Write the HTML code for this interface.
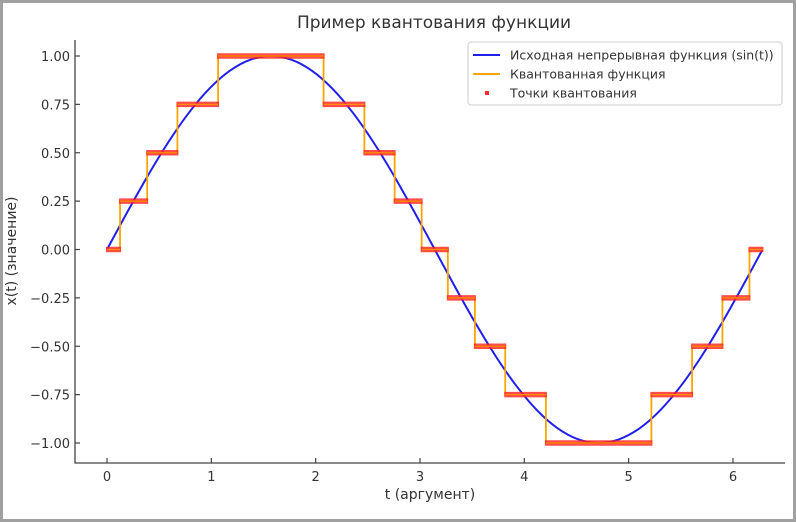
<!DOCTYPE html>
<html><head><meta charset="utf-8"><style>
html,body{margin:0;padding:0;background:#fff}
#wrap{position:relative;width:796px;height:522px;box-sizing:border-box;border:3px solid #a0a0a0;background:#fff}
svg{position:absolute;left:-3px;top:-3px}
text{font-family:"DejaVu Sans","Liberation Sans",sans-serif;fill:#333}
</style></head><body>
<div id="wrap">
<svg id="chart" width="796" height="522"></svg>
</div>
<script>
// data
const sineT = [0,0.1963,0.3927,0.5890,0.7854,0.9817,1.1781,1.3744,1.5708,1.7671,1.9635,2.1598,2.3562,2.5525,2.7489,2.9452,3.1416,3.3379,3.5343,3.7306,3.9270,4.1233,4.3197,4.5160,4.7124,4.9087,5.1051,5.3014,5.4978,5.6941,5.8905,6.0868,6.2832];
const sineV = [0,0.1951,0.3827,0.5556,0.7071,0.8315,0.9239,0.9808,1,0.9808,0.9239,0.8315,0.7071,0.5556,0.3827,0.1951,0,-0.1951,-0.3827,-0.5556,-0.7071,-0.8315,-0.9239,-0.9808,-1,-0.9808,-0.9239,-0.8315,-0.7071,-0.5556,-0.3827,-0.1951,0];
const levelStart = [0,0.125,0.385,0.675,1.065,2.076,2.467,2.757,3.016,3.267,3.526,3.817,4.207,5.218,5.608,5.899,6.158];
const levelEnd = [0.125,0.385,0.675,1.065,2.076,2.467,2.757,3.016,3.267,3.526,3.817,4.207,5.218,5.608,5.899,6.158,6.283];
const levelValue = [0,0.25,0.5,0.75,1,0.75,0.5,0.25,0,-0.25,-0.5,-0.75,-1,-0.75,-0.5,-0.25,0];
const xTicks = [0,1,2,3,4,5,6];
const yTicks = [1,0.75,0.5,0.25,0,-0.25,-0.5,-0.75,-1];
const yTickLabels = ["1.00","0.75","0.50","0.25","0.00","\u22120.25","\u22120.50","\u22120.75","\u22121.00"];

const svg = document.getElementById('chart');
const NS = 'http://www.w3.org/2000/svg';
const X = t => 107 + t * 104.33;
const Y = v => 249.5 - v * 193.5;
function mk(tag, attrs, parent){ const e=document.createElementNS(NS,tag); for(const k in attrs) e.setAttribute(k,attrs[k]); (parent||svg).appendChild(e); return e; }

let e = mk('text',{x:434,y:28,'text-anchor':'middle','font-size':17});
e.textContent='Пример квантования функции';



e = mk('path',{d:'M75,40 V463 H785',fill:'none',stroke:'#444','stroke-width':1.3});



xTicks.forEach(t=>{
  const l = mk('line',{x1:X(t),x2:X(t),y1:463,y2:458,stroke:'#444','stroke-width':1.2});
  
  
  const tx = mk('text',{x:X(t),y:481,'text-anchor':'middle','font-size':13});
  tx.textContent = t;
  
  
});
yTicks.forEach((v,i)=>{
  const l = mk('line',{x1:75,x2:80,y1:Y(v),y2:Y(v),stroke:'#444','stroke-width':1.2});
  
  
  const tx = mk('text',{x:70,y:Y(v)+5,'text-anchor':'end','font-size':13});
  tx.textContent = yTickLabels[i];
  
  
});
e = mk('text',{x:430,y:499,'text-anchor':'middle','font-size':14});
e.textContent='t (аргумент)';


e = mk('text',{x:0,y:0,'text-anchor':'middle','font-size':14,transform:'translate(16,251) rotate(-90)'});
e.textContent='x(t) (значение)';



// sine (smooth Catmull-Rom through sampled points)
const P = sineT.map((t,i)=>[X(t),Y(sineV[i])]);
let d = 'M'+P[0][0]+','+P[0][1];
for(let i=0;i<P.length-1;i++){
  const p0=P[Math.max(0,i-1)],p1=P[i],p2=P[i+1],p3=P[Math.min(P.length-1,i+2)];
  const c1=[p1[0]+(p2[0]-p0[0])/6,p1[1]+(p2[1]-p0[1])/6];
  const c2=[p2[0]-(p3[0]-p1[0])/6,p2[1]-(p3[1]-p1[1])/6];
  d+=' C'+c1.join(',')+' '+c2.join(',')+' '+p2.join(',');
}
e = mk('path',{d:d,fill:'none',stroke:'#1f1fee','stroke-width':2});



let pts = [];
levelValue.forEach((v,i)=>{ pts.push(X(levelStart[i])+','+Y(v)); pts.push(X(levelEnd[i])+','+Y(v)); });
e = mk('polyline',{points:pts.join(' '),fill:'none',stroke:'#ffa500','stroke-width':1.8});


levelValue.forEach((v,i)=>{
  const r = mk('line',{x1:X(levelStart[i])-1,x2:X(levelEnd[i])+1,y1:Y(v),y2:Y(v),stroke:'#ff2020','stroke-width':5.5,'stroke-opacity':0.8});
  
  
});
levelValue.forEach((v,i)=>{
  const r = mk('line',{x1:X(levelStart[i]),x2:X(levelEnd[i]),y1:Y(v),y2:Y(v),stroke:'#ffa500','stroke-width':1.2,'stroke-opacity':0.8});
  
  
});

const lg = mk('g',{});


mk('rect',{x:468,y:42,width:314,height:63,rx:3,fill:'#fff',stroke:'#ccc'},lg);
const items=[['line','#1f1fee','Исходная непрерывная функция (sin(t))'],['line','#ffa500','Квантованная функция'],['pt','#ff2a2a','Точки квантования']];
items.forEach((it,i)=>{
  const y=55+i*19;
  const g = mk('g',{},lg);
  
  
  if(it[0]==='line') mk('line',{x1:473,x2:500,y1:y,y2:y,stroke:it[1],'stroke-width':2},g);
  else mk('rect',{x:485,y:y-2,width:4,height:4,fill:it[1]},g);
  const t=mk('text',{x:510,y:y+4.5,'font-size':12.5},g); t.textContent=it[2];
});
</script>
</body></html>
